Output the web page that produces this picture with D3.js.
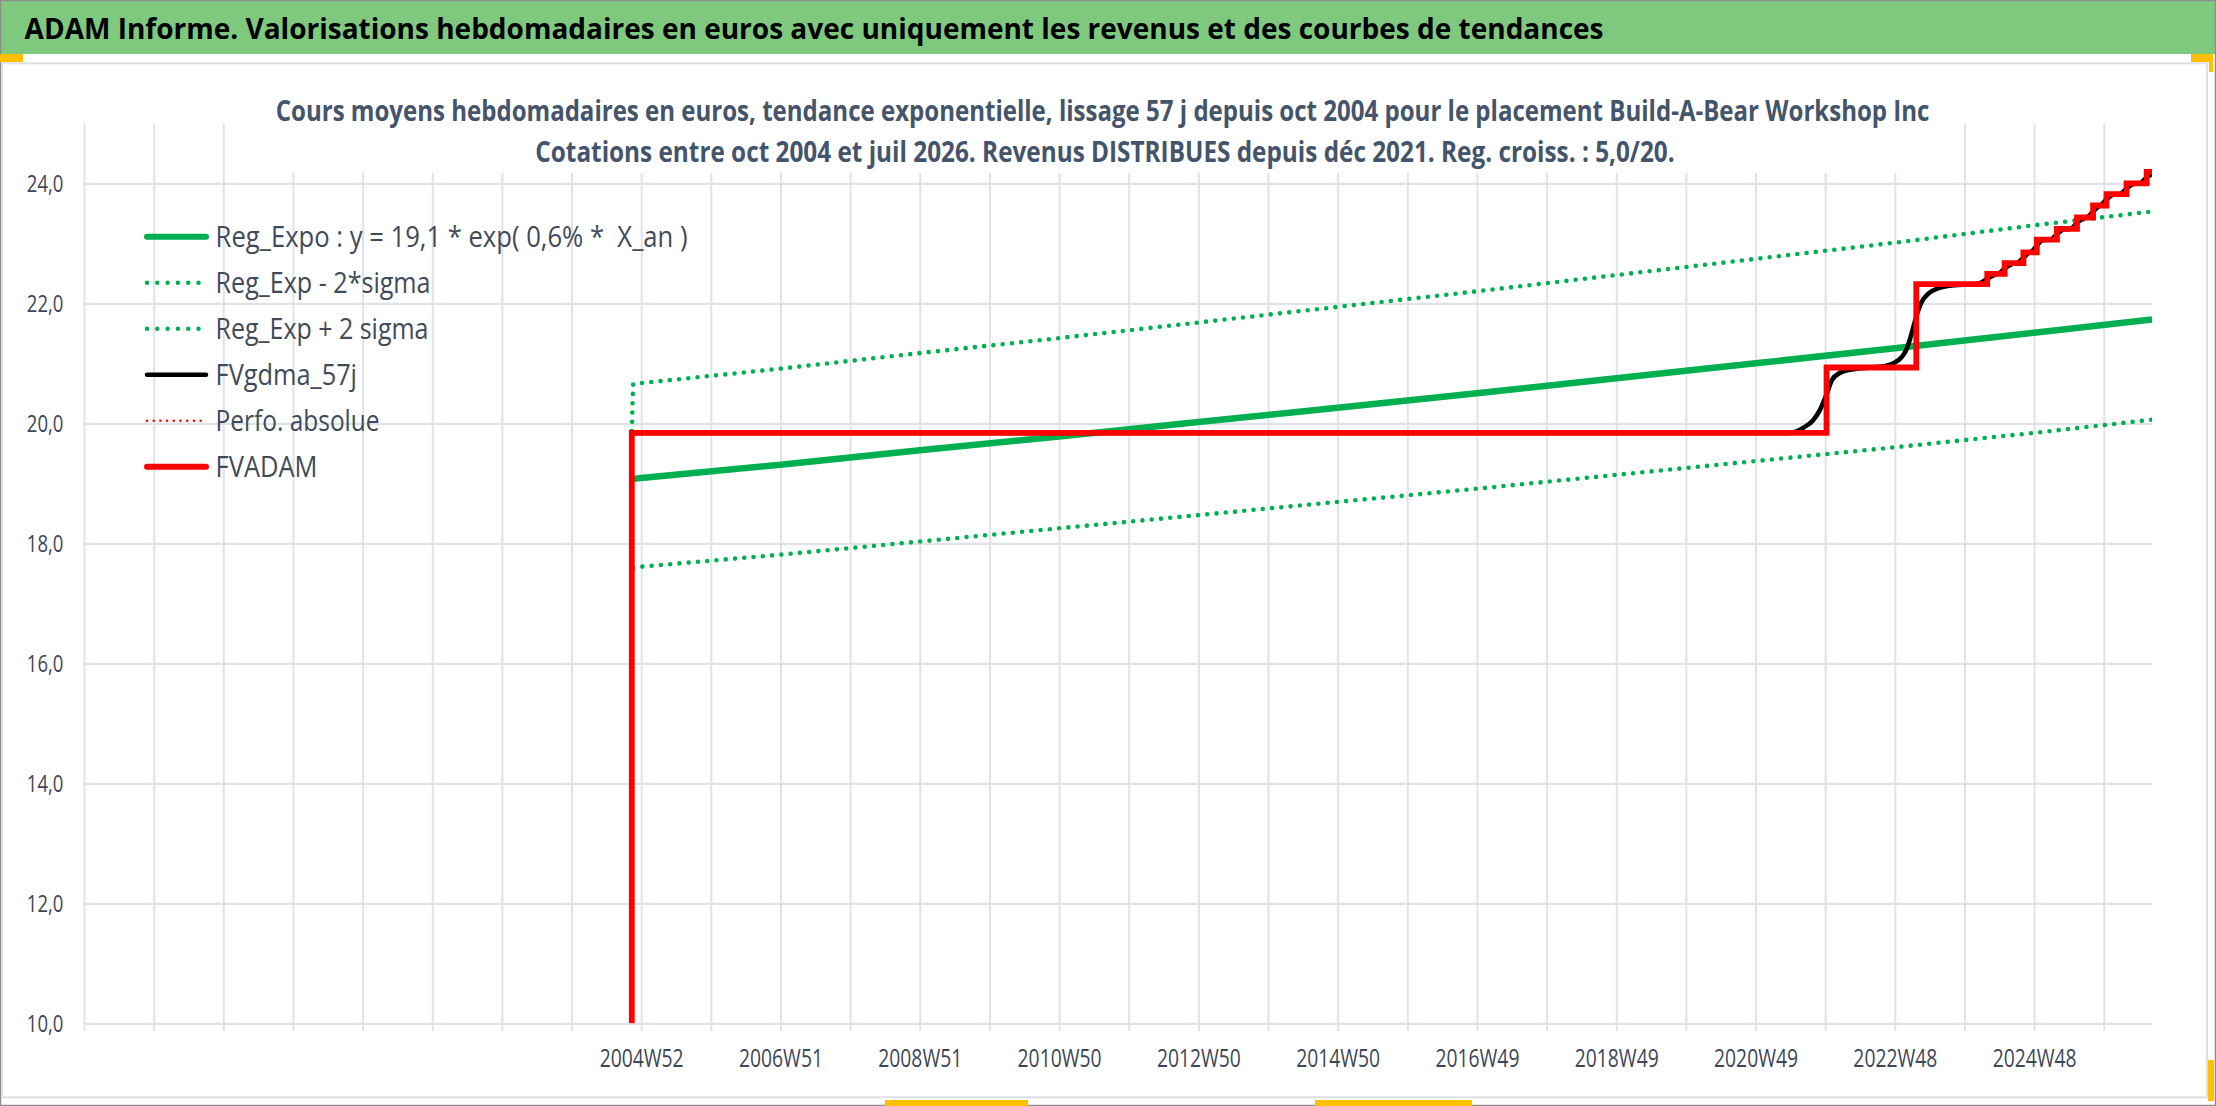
<!DOCTYPE html>
<html>
<head>
<meta charset="utf-8">
<script src="https://cdn.jsdelivr.net/npm/d3@7"></script>
<style>
  body { margin: 0; background: #fff; }
  svg { display: block; font-family: "Open Sans", "Noto Sans", sans-serif; }
</style>
</head>
<body>
<div id="container"></div>
<script>
/* DATA */
const headerTitle = "ADAM Informe. Valorisations hebdomadaires en euros avec uniquement les revenus et des courbes de tendances";
const subTitle1 = "Cours moyens hebdomadaires en euros, tendance exponentielle, lissage 57 j depuis oct 2004 pour le placement Build-A-Bear Workshop Inc";
const subTitle2 = "Cotations entre oct 2004 et juil 2026. Revenus DISTRIBUES depuis déc 2021. Reg. croiss. : 5,0/20.";

// week index 0 = 2004W52, the category axis runs from -416 to 1128
const weekLabels = ["2004W52", "2006W51", "2008W51", "2010W50", "2012W50", "2014W50",
                    "2016W49", "2018W49", "2020W49", "2022W48", "2024W48"];
const labelWeeks = [0, 104, 208, 312, 416, 520, 624, 728, 832, 936, 1040];
const yTicks = [10, 12, 14, 16, 18, 20, 22, 24];

const legendNames = ["Reg_Expo : y = 19,1 * exp( 0,6% *  X_an )", "Reg_Exp - 2*sigma",
                     "Reg_Exp + 2 sigma", "FVgdma_57j", "Perfo. absolue", "FVADAM"];

// regression lines read at a few weeks
const regWeeks = [-6, 0, 104, 208, 312, 416, 520, 624, 728, 832, 936, 1040, 1128];
const regExpo = [19.07, 19.09, 19.31, 19.55, 19.78, 20.02, 20.26, 20.50, 20.75, 21.00, 21.25, 21.51, 21.73];
const regLow  = [17.59, 17.61, 17.81, 18.03, 18.25, 18.47, 18.69, 18.91, 19.14, 19.37, 19.60, 19.84, 20.06];
const highWeeks = [-7, -6, 0, 104, 208, 312, 416, 520, 624, 728, 832, 936, 1040, 1128];
const regHigh = [19.87, 20.65, 20.67, 20.91, 21.17, 21.42, 21.68, 21.94, 22.20, 22.47, 22.74, 23.01, 23.30, 23.53];

// FVADAM: [week where the value changes, new value]
const fvadam = [[-8, 10], [-7, 19.84], [885, 20.93], [952, 22.32], [1005, 22.49], [1018, 22.67],
                [1032, 22.85], [1042, 23.06], [1057, 23.24], [1072, 23.43], [1084, 23.63],
                [1094, 23.82], [1109, 24.00], [1124, 24.19], [1128, 24.19]];

// FVgdma_57j (smoothed)
const fvgdma = [[-7, 19.84], [855, 19.84], [862, 19.86], [868, 19.93], [875, 20.05], [880, 20.22],
                [885, 20.48], [889, 20.72], [895, 20.84], [905, 20.90], [918, 20.93], [928, 20.95],
                [935, 21.00], [941, 21.10], [944, 21.20], [947, 21.38], [950, 21.62], [953, 21.85],
                [956, 22.02], [961, 22.16], [968, 22.25], [980, 22.30], [996, 22.32], [999, 22.33],
                [1005, 22.41], [1011, 22.48], [1013, 22.49], [1018, 22.58], [1024, 22.66], [1027, 22.67],
                [1032, 22.76], [1036, 22.84], [1038, 22.86], [1042, 22.96], [1046, 23.05], [1052, 23.06],
                [1057, 23.15], [1062, 23.23], [1067, 23.24], [1072, 23.34], [1077, 23.42], [1080, 23.44],
                [1084, 23.53], [1088, 23.61], [1090, 23.64], [1094, 23.73], [1099, 23.81], [1104, 23.82],
                [1109, 23.91], [1114, 23.99], [1119, 24.00], [1124, 24.10], [1128, 24.15]];

/* LAYOUT AND STYLES */
const W = 2216, H = 1106;
const plot = { left: 84, right: 2152, top: 123.3, bottom: 1023.3 };
const green = "#00b050", red = "#ff0000";
const gridColor = "#dfe3e9";
const tickColor = "#3d4757";

const legendStyle = [
  { color: green, w: 6, dash: null, len: 472 },
  { color: green, w: 4.5, dash: "0 10.3", len: 215 },
  { color: green, w: 4.5, dash: "0 10.3", len: 213 },
  { color: "#000", w: 4.5, dash: null, len: 141.5 },
  { color: red, w: 2.6, dash: "0 6.7", len: 164 },
  { color: red, w: 6, dash: null, len: 102 }
];

// the source uses a narrow font: scale each text horizontally to its measured width
function squeeze(sel, width) {
  sel.each(function (d, i) {
    const t = d3.select(this);
    const target = typeof width === "function" ? width(d, i) : width;
    const s = target / this.getComputedTextLength();
    const x = +t.attr("x") || 0, y = +t.attr("y") || 0;
    t.attr("x", 0).attr("y", 0)
      .attr("transform", `translate(${x},${y}) scale(${s},1)`);
  });
}

const svg = d3.select("#container")
  .append("svg")
  .attr("width", W)
  .attr("height", H);

/* FRAME AND HEADER */
svg.append("rect").attr("width", W).attr("height", H).attr("fill", "#fff");
svg.append("rect")
  .attr("x", 0).attr("y", 1).attr("width", W).attr("height", 53)
  .attr("fill", "#7fc97f");
svg.append("rect")
  .attr("x", 0.5).attr("y", 0.5).attr("width", W - 1).attr("height", H - 1)
  .attr("fill", "none").attr("stroke", "#8c8c8c").attr("stroke-width", 1.5);
svg.append("rect")
  .attr("x", 2).attr("y", 63.3).attr("width", 2205).attr("height", 1034)
  .attr("fill", "none").attr("stroke", "#dcdfe4").attr("stroke-width", 2);

// little yellow selection handles
const handles = [[0, 54, 23, 8], [2191, 54, 22, 8], [2209, 54, 4, 18],
                 [885, 1100, 143, 6], [1315, 1100, 157, 6], [2208, 1060, 6, 41]];
svg.selectAll(".handle")
  .data(handles)
  .join("rect")
  .attr("class", "handle")
  .attr("x", d => d[0]).attr("y", d => d[1])
  .attr("width", d => d[2]).attr("height", d => d[3])
  .attr("fill", "#ffc000");

svg.append("text")
  .attr("x", 24.6).attr("y", 39.3)
  .attr("font-size", 29.4).attr("font-weight", 700).attr("fill", "#000")
  .text(headerTitle)
  .call(squeeze, 1579);

/* SCALES */
const xScale = d3.scaleLinear()
  .domain([-416, 1128])
  .range([plot.left, plot.right]);

const yScale = d3.scaleLinear()
  .domain([10, 25])
  .range([plot.bottom, plot.top]);

const frFormat = d3.formatLocale({ decimal: ",", thousands: "\u00a0", grouping: [3], currency: ["", " €"] }).format(".1f");

/* AXES AND GRID */
// vertical gridlines, one per year, with small ticks below the axis
const xGrid = svg.append("g")
  .attr("class", "x-grid")
  .attr("transform", `translate(0,${plot.bottom})`)
  .call(d3.axisBottom(xScale).tickValues(d3.range(-416, 1093, 52)).tickSize(8).tickFormat(""));
xGrid.select(".domain").remove();
xGrid.selectAll(".tick line")
  .attr("y1", -(plot.bottom - plot.top))
  .attr("y2", 8)
  .attr("stroke", gridColor)
  .attr("stroke-width", 2);

// horizontal gridlines + y labels
const yAxis = svg.append("g")
  .attr("class", "y-axis")
  .attr("transform", `translate(${plot.left},0)`)
  .call(d3.axisLeft(yScale).tickValues(yTicks).tickSize(-(plot.right - plot.left)).tickPadding(20.6).tickFormat(frFormat));
yAxis.attr("font-family", null).attr("font-size", null);
yAxis.select(".domain").remove();
yAxis.selectAll(".tick line").attr("stroke", gridColor).attr("stroke-width", 2.2);
yAxis.selectAll(".tick text")
  .attr("dy", null).attr("y", 8.6)
  .attr("font-size", 24).attr("fill", tickColor)
  .call(squeeze, 36.6);

// x labels
const xAxis = svg.append("g")
  .attr("class", "x-axis")
  .attr("transform", `translate(0,${plot.bottom})`)
  .call(d3.axisBottom(xScale).tickValues(labelWeeks).tickSize(0).tickFormat((d, i) => weekLabels[i]));
xAxis.attr("font-family", null).attr("font-size", null);
xAxis.select(".domain").remove();
xAxis.selectAll(".tick text")
  .attr("dy", null).attr("y", 43.4)
  .attr("font-size", 25).attr("fill", tickColor)
  .call(squeeze, 84);

/* CHART TITLE (its white box hides the top of the gridlines) */
svg.append("rect")
  .attr("x", 262).attr("y", 65).attr("width", 1682).attr("height", 108)
  .attr("fill", "#fff");
svg.append("text")
  .attr("x", 275.7).attr("y", 120.5)
  .attr("font-size", 29).attr("font-weight", 700).attr("fill", "#44546a")
  .text(subTitle1)
  .call(squeeze, 1655);
svg.append("text")
  .attr("x", 535.3).attr("y", 161.7)
  .attr("font-size", 29).attr("font-weight", 700).attr("fill", "#44546a")
  .text(subTitle2)
  .call(squeeze, 1140);

/* SERIES */
svg.append("clipPath").attr("id", "plotClip")
  .append("rect")
  .attr("x", plot.left).attr("y", plot.top)
  .attr("width", plot.right - plot.left).attr("height", plot.bottom - plot.top);

const series = svg.append("g").attr("clip-path", "url(#plotClip)");

const line = d3.line()
  .x(d => xScale(d[0]))
  .y(d => yScale(d[1]));

const zipWeeks = (weeks, vals) => weeks.map((w, i) => [w, vals[i]]);

// Reg_Expo
series.append("path")
  .datum(zipWeeks(regWeeks, regExpo))
  .attr("d", line)
  .attr("fill", "none").attr("stroke", green).attr("stroke-width", 6.5);

// Reg_Exp - 2*sigma
series.append("path")
  .datum(zipWeeks(regWeeks, regLow))
  .attr("d", line)
  .attr("fill", "none").attr("stroke", green).attr("stroke-width", 4.6)
  .attr("stroke-linecap", "round").attr("stroke-dasharray", "0 9.3");

// Reg_Exp + 2 sigma
series.append("path")
  .datum(zipWeeks(highWeeks, regHigh))
  .attr("d", line)
  .attr("fill", "none").attr("stroke", green).attr("stroke-width", 4.6)
  .attr("stroke-linecap", "round").attr("stroke-dasharray", "0 9.3");

// FVgdma_57j
series.append("path")
  .datum(fvgdma)
  .attr("d", line.curve(d3.curveMonotoneX))
  .attr("fill", "none").attr("stroke", "#000").attr("stroke-width", 4.6)
  .attr("stroke-linejoin", "round");

// FVADAM
series.append("path")
  .datum(fvadam)
  .attr("d", line.curve(d3.curveStepAfter))
  .attr("fill", "none").attr("stroke", red).attr("stroke-width", 5.8)
  .attr("stroke-linejoin", "miter");

/* LEGEND */
const legend = svg.append("g").attr("class", "legend");
const rows = legend.selectAll("g.item")
  .data(legendNames)
  .join("g")
  .attr("class", "item")
  .attr("transform", (d, i) => `translate(0,${236.7 + i * 46})`);

rows.append("line")
  .attr("x1", 147).attr("x2", 206)
  .attr("stroke", (d, i) => legendStyle[i].color)
  .attr("stroke-width", (d, i) => legendStyle[i].w)
  .attr("stroke-linecap", "round")
  .attr("stroke-dasharray", (d, i) => legendStyle[i].dash);

rows.append("text")
  .attr("x", 215.6).attr("y", 10.3)
  .attr("font-size", 29).attr("fill", "#414a59")
  .style("white-space", "pre")
  .text(d => d)
  .call(squeeze, (d, i) => legendStyle[i].len);
</script>
</body>
</html>
